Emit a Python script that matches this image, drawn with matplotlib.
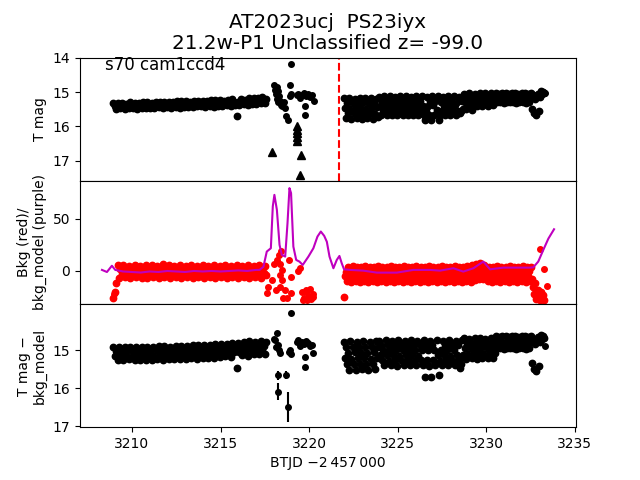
import numpy as np
import matplotlib
matplotlib.use("Agg")
import matplotlib.pyplot as plt

# ---------------- data ----------------
seg1_start, seg1_cadence = 3208.95, 0.08
seg2_start, seg2_cadence = 3221.97, 0.06

mag_seg1 = [15.31, 15.40, 15.48, 15.33, 15.41, 15.47, 15.32, 15.39, 15.49, 15.34, 15.42, 15.46,
            15.30, 15.38, 15.47, 15.32, 15.40, 15.48, 15.31, 15.37, 15.46, 15.29, 15.41, 15.47,
            15.30, 15.37, 15.46, 15.31, 15.39, 15.47, 15.28, 15.38, 15.45, 15.30, 15.36, 15.47,
            15.29, 15.36, 15.45, 15.28, 15.38, 15.46, 15.30, 15.37, 15.44, 15.27, 15.35, 15.46,
            15.27, 15.34, 15.44, 15.26, 15.36, 15.43, 15.28, 15.35, 15.45, 15.26, 15.33, 15.42,
            15.26, 15.33, 15.42, 15.25, 15.35, 15.43, 15.27, 15.34, 15.41, 15.24, 15.32, 15.43,
            15.24, 15.31, 15.40, 15.23, 15.33, 15.41, 15.25, 15.32, 15.39, 15.22, 15.30, 15.41,
            15.21, 15.29, 15.37, 15.70, 15.30, 15.38, 15.20, 15.28, 15.36, 15.22, 15.29, 15.37,
            15.18, 15.26, 15.34, 15.17, 15.27, 15.35, 15.16, 15.25, 15.33, 15.15, 15.24, 15.32,
            15.20]

sub_seg1 = [14.92, 15.15, 15.03, 15.26, 14.93, 15.14, 15.04, 15.25, 14.91, 15.16, 15.02, 15.24,
            14.93, 15.15, 15.03, 15.26, 14.92, 15.16, 15.04, 15.25, 14.91, 15.14, 15.03, 15.26,
            14.91, 15.14, 15.02, 15.25, 14.92, 15.15, 15.01, 15.24, 14.90, 15.13, 15.03, 15.25,
            14.90, 15.13, 15.01, 15.24, 14.91, 15.14, 15.00, 15.23, 14.89, 15.12, 15.02, 15.24,
            14.89, 15.12, 15.00, 15.23, 14.90, 15.13, 14.99, 15.22, 14.88, 15.11, 15.01, 15.23,
            14.87, 15.10, 14.98, 15.21, 14.88, 15.11, 14.97, 15.20, 14.86, 15.09, 14.99, 15.21,
            14.84, 15.07, 14.95, 15.18, 14.85, 15.08, 14.94, 15.17, 14.83, 15.06, 14.96, 15.18,
            14.81, 15.04, 14.92, 15.48, 14.82, 15.05, 14.91, 15.14, 14.80, 15.03, 14.93, 15.15,
            14.77, 15.00, 14.88, 15.11, 14.78, 15.01, 14.87, 15.10, 14.76, 14.99, 14.89, 15.10,
            14.80]

bkg_seg1 = [-26, -20, -12, 6, -7, 2, -3, 6, -6, 1, -2, 5,
            -7, 2, -3, 6, -6, 2, -2, 5, -7, 1, -3, 6,
            -7, 3, -2, 6, -6, 1, -3, 5, -7, 2, -2, 7,
            -6, 2, -3, 6, -7, 1, -2, 5, -6, 2, -3, 6,
            -7, 2, -2, 5, -6, 1, -3, 6, -7, 2, -2, 5,
            -6, 3, -3, 6, -7, 1, -2, 5, -6, 2, -3, 6,
            -7, 2, -2, 5, -6, 1, -3, 6, -7, 2, -2, 5,
            -6, 2, -3, 6, -7, 1, -2, 5, -6, 2, -3, 6,
            -7, 2, -2, 5, -6, 1, -3, 6, -7, 2, -2, 5,
            -4]

mag_seg2 = [15.18, 15.47, 15.76, 15.31, 15.62, 15.17, 15.48, 15.77, 15.33, 15.61,
            15.19, 15.46, 15.75, 15.32, 15.63, 15.16, 15.47, 15.78, 15.30, 15.62,
            15.18, 15.48, 15.76, 15.33, 15.60, 15.17, 15.46, 15.77, 15.31, 15.63,
            15.19, 15.45, 15.74,
            15.14, 15.40, 15.67, 15.27, 15.54, 15.12, 15.41, 15.68, 15.26, 15.53,
            15.13, 15.39, 15.66, 15.28, 15.55, 15.14, 15.40, 15.67, 15.27, 15.54,
            15.12, 15.41, 15.68, 15.26, 15.53, 15.13, 15.40, 15.66, 15.28, 15.55,
            15.14, 15.39, 15.67, 15.27, 15.54, 15.12, 15.40, 15.68, 15.26, 15.53,
            15.13, 15.41, 15.66, 15.80, 15.55, 15.14, 15.40, 15.67, 15.27, 15.80,
            15.12, 15.39, 15.68, 15.26, 15.53, 15.13, 15.80, 15.66, 15.28, 15.54,
            15.14, 15.40, 15.67, 15.27, 15.55, 15.12, 15.41, 15.68, 15.26, 15.53,
            15.13, 15.39, 15.66, 15.28, 15.54, 15.14, 15.60, 15.56, 15.27, 15.50,
            15.06, 15.28, 15.50, 15.16, 15.40, 15.04, 15.29, 15.51, 15.17, 15.39, 15.05,
            15.22, 15.42, 15.12, 15.32, 15.02, 15.23, 15.41, 15.11, 15.33, 15.03,
            15.22, 15.40, 15.13, 15.31, 15.02, 15.21, 15.38, 15.12, 15.30,
            15.04, 15.30, 15.17, 15.05, 15.29, 15.16, 15.03, 15.31, 15.18, 15.04,
            15.30, 15.17, 15.05, 15.28, 15.16, 15.03, 15.30, 15.18, 15.04, 15.31,
            15.17, 15.05, 15.29, 15.16, 15.03, 15.30, 15.18, 15.04, 15.31, 15.17,
            15.05, 15.29, 15.16, 15.03,
            15.50, 15.08, 15.62, 15.20, 15.67, 15.05, 15.55, 15.15,
            14.97, 15.06, 14.99, 15.04]

sub_seg2 = [14.78, 15.22, 14.92, 15.37, 15.07, 15.52, 14.77, 15.23, 14.93, 15.36,
            15.06, 15.53, 14.79, 15.21, 14.91, 15.38, 15.08, 15.51, 14.77, 15.22,
            14.92, 15.37, 15.07, 15.52, 14.78, 15.23, 14.93, 15.36, 15.06, 15.50,
            14.77, 15.21, 14.92,
            14.75, 15.14, 14.87, 15.27, 15.00, 15.40, 14.74, 15.13, 14.88, 15.28,
            15.01, 15.39, 14.75, 15.14, 14.86, 15.27, 15.00, 15.41, 14.74, 15.15,
            14.87, 15.26, 15.01, 15.40, 14.75, 15.13, 14.88, 15.27, 14.99, 15.39,
            14.74, 15.14, 14.87, 15.28, 15.00, 15.40, 14.75, 15.15, 14.86, 15.27,
            15.01, 15.39, 14.74, 15.70, 14.87, 15.26, 15.00, 15.41, 14.75, 15.70,
            14.88, 15.27, 14.99, 15.40, 14.74, 15.14, 15.66, 15.28, 15.00, 15.39,
            14.75, 15.13, 14.86, 15.27, 15.01, 15.40, 14.74, 15.15, 14.87, 15.26,
            15.00, 15.39, 14.75, 15.14, 14.88, 15.27, 15.48, 15.38, 14.74, 15.13,
            14.69, 14.96, 15.23, 14.82, 15.10, 14.70, 14.95, 15.22, 14.83, 15.09,
            14.68, 14.97, 15.23, 14.81, 15.11, 14.69, 14.96, 15.21, 14.82, 15.10,
            14.70, 14.95, 15.22, 14.83, 15.09, 14.68, 14.97, 15.20, 14.81, 15.08,
            14.64, 14.96, 14.80, 14.65, 14.95, 14.79, 14.63, 14.97, 14.81, 14.64,
            14.96, 14.80, 14.65, 14.94, 14.79, 14.63, 14.96, 14.81, 14.64, 14.97,
            14.80, 14.65, 14.95, 14.79, 14.63, 14.96, 14.81, 14.64, 14.97, 14.80,
            14.65, 14.95, 14.79, 14.63,
            15.35, 14.70, 15.50, 14.85, 15.55, 14.66, 15.42, 14.80,
            14.60, 14.70, 14.62, 14.68]

bkg_seg2 = [-25, -5, -1, -10, 4, -6, 0, -11, 5, -5,
            -1, -10, 4, -6, -1, -11, 4, -5, 0, -10,
            5, -6, -1, -11, 4, -5, -1, -10, 4, -6,
            0, -11, 5, -5, -1, -10, 4, -6, -1, -11,
            4, -5, 0, -10, 5, -6, -1, -11, 4, -5,
            -1, -10, 4, -6, 0, -11, 5, -5, -1, -10,
            4, -6, -1, -11, 4, -5, 0, -10, 5, -6,
            -1, -11, 4, -5, -1, -10, 4, -6, 0, -11,
            5, -5, -1, -10, 4, -6, -1, -11, 4, -5,
            0, -10, 5, -6, -1, -11, 4, -5, -1, -10,
            4, -6, 0, -11, 5, -5, -1, -10, 4, -6,
            -1, -11, 4, -5, 0, -10, 5, -6, -1, -11,
            6, -4, 1, -9, 7, -3, 2, -8, 8, -4,
            2, -8, 6, -5, 0, -10, 4, -6, -1, -11,
            4, -5, 0, -10, 5, -6, -1, -11, 4, -5,
            -1, -10, 4, -6, 0, -11, 5, -5, -1, -10,
            4, -6, -1, -11, 4, -5, 0, -10, 5, -6,
            -1, -11, 4, -5, 0, -10, 4,
            -8, -15, -22, -12, -27, -18, -25, -28, -20, -26, -23, -28]

# isolated points (between the two orbits and at the segment ends)
t_gap_top = [3217.99, 3218.05, 3218.12, 3218.2, 3218.18, 3218.26, 3218.3, 3218.22,
             3218.35, 3218.4, 3218.45, 3218.6, 3218.65, 3218.72, 3218.8, 3218.93,
             3218.9, 3218.95, 3218.98, 3219.3, 3219.4, 3219.5, 3219.6, 3219.7,
             3219.85, 3219.95, 3220.05, 3220.15, 3220.25, 3219.78, 3219.78, 3233.33]
m_gap_top = [14.79, 14.95, 15.05, 14.84, 15.2, 14.98, 15.13, 15.3,
             15.27, 15.37, 15.42, 15.3, 15.47, 15.71, 15.81, 14.79,
             15.13, 15.05, 14.2, 15.10, 15.05, 15.18, 15.08, 15.03,
             15.12, 15.06, 15.15, 15.08, 15.25, 15.42, 15.66, 15.04]

t_lim = [3217.93, 3219.3, 3219.3, 3219.3, 3219.3, 3219.3, 3219.55, 3219.5]
m_lim = [16.73, 16.0, 16.1, 16.2, 16.3, 16.42, 16.83, 17.41]

t_gap_bkg = [3209.0, 3217.61, 3217.7, 3217.9, 3217.99, 3218.18, 3218.31, 3218.42, 3218.36,
             3218.46, 3218.36, 3218.33, 3218.14, 3218.46, 3218.65, 3218.55, 3218.74,
             3218.84, 3218.97, 3218.97, 3219.49, 3219.4, 3219.6, 3219.7, 3219.8, 3219.9,
             3220.0, 3220.1, 3220.2, 3219.65, 3219.85, 3220.05, 3220.24, 3233.03,
             3233.27, 3233.4]
v_gap_bkg = [-22, -21, -15, -9, 7, 10.6, 15.4, 19.5, 7,
             1, -4, -15, -18, -9, -18, -26, -26,
             10.6, -5.4, -21, 2.6, 0, -20, -26, -18, -28,
             -24, -27, -22, -28, -20, -17, -25, 20.9,
             1.6, -14.4]

t_model = [3208.31, 3208.59, 3208.87, 3209.06, 3209.5, 3210.0, 3210.5, 3211.0, 3211.5,
           3212.0, 3212.5, 3213.0, 3213.5, 3214.0, 3214.5, 3215.0, 3215.5, 3216.0,
           3216.5, 3217.0, 3217.2, 3217.42, 3217.61, 3217.84, 3217.95, 3218.04,
           3218.18, 3218.33, 3218.46, 3218.65, 3218.78, 3218.89, 3218.98, 3219.11,
           3219.27, 3219.45, 3219.64, 3219.96, 3220.24, 3220.47, 3220.66, 3220.85,
           3221.0, 3221.15, 3221.37, 3221.56, 3221.71, 3221.84, 3221.97, 3222.31,
           3223.06, 3223.82, 3224.95, 3225.88, 3226.82, 3227.39, 3228.14, 3228.7,
           3229.27, 3229.83, 3230.21, 3230.96, 3231.71, 3232.46, 3232.65, 3232.93,
           3233.21, 3233.5, 3233.82]
v_model = [1, -1, 5, 1, -0.5, -1, -1.5, -0.5, -1,
           0, -0.5, -1, 0, -0.5, 0, -0.5, 0, 0.5,
           0, 1, 1, 4, 18.6, 21.8, 62, 73,
           58.7, 25, 15.4, 13.8, 45.9, 79.5, 74.7, 23.4,
           10.6, 9, 5.8, 13.8, 21.8, 33, 37.8, 33.7,
           28, 13.8, 2.6, 10.6, 14.4, 7.4, 1.6, 1,
           0.3, -1.6, -1.6, 1, 1, 0.3, 2.6, -0.6,
           2.6, 9, 1.6, 3.2, 3.2, 3.2, 3.5, 9,
           20, 31, 40]

t_gap_sub = [3217.99, 3218.1, 3218.15, 3218.2, 3218.25, 3218.3, 3218.35, 3218.23, 3218.23,
             3218.7, 3218.8, 3218.88, 3218.93, 3218.98, 3218.98, 3219.3, 3219.4, 3219.5,
             3219.6, 3219.7, 3219.85, 3219.95, 3220.05, 3220.15, 3220.24, 3219.77,
             3219.77, 3233.33]
m_gap_sub = [14.72, 14.74, 14.91, 14.56, 14.87, 15.0, 15.08, 15.66, 16.1,
             15.66, 16.5, 15.05, 15.0, 15.1, 14.02, 14.8, 14.74, 14.9,
             14.78, 14.85, 14.76, 14.82, 14.9, 14.86, 15.07, 15.19,
             15.44, 14.90]
e_gap_sub = [0, 0, 0, 0, 0, 0, 0, 0.12, 0.22,
             0.1, 0.4, 0, 0, 0, 0, 0, 0, 0,
             0, 0, 0, 0, 0, 0, 0, 0,
             0, 0]

t_sector_break = 3221.69

# ---------------- regular-cadence time stamps ----------------
t_seg1 = seg1_start + seg1_cadence * np.arange(len(mag_seg1))
t_seg2 = seg2_start + seg2_cadence * np.arange(len(mag_seg2))

fig, (ax1, ax2, ax3) = plt.subplots(3, 1, sharex=True, figsize=(6.4, 4.8), dpi=100)
fig.subplots_adjust(hspace=0)

ms_band = 4.6
ms = 4.0
# top panel
for t, m in ((t_seg1, mag_seg1), (t_seg2, mag_seg2)):
    ax1.plot(t, m, 'o', color='k', ms=ms_band)
ax1.plot(t_gap_top, m_gap_top, 'o', color='k', ms=ms)
ax1.plot(t_lim, m_lim, '^', color='k', ms=6)
ax1.axvline(t_sector_break, color='r', ls='--', lw=1.5)
ax1.set_ylim(17.58, 14.0)
ax1.set_yticks([14, 15, 16, 17])
ax1.set_ylabel('T mag')
ax1.text(0.05, 0.9, 's70 cam1ccd4', transform=ax1.transAxes, fontsize=12)
ax1.set_title('AT2023ucj  PS23iyx\n21.2w-P1 Unclassified z= -99.0',
              fontsize=14.4, linespacing=1.13)

# middle panel
for t, v in ((t_seg1, bkg_seg1), (t_seg2, bkg_seg2)):
    ax2.plot(t, v, 'o', color='r', ms=ms_band)
ax2.plot(t_gap_bkg, v_gap_bkg, 'o', color='r', ms=ms)
ax2.plot(t_model, v_model, '-', color='m', lw=1.5)
ax2.set_ylim(-31.7, 86.5)
ax2.set_yticks([0, 50])
ax2.set_ylabel('Bkg (red)/\nbkg_model (purple)')

# bottom panel
for t, m in ((t_seg1, sub_seg1), (t_seg2, sub_seg2)):
    ax3.plot(t, m, 'o', color='k', ms=ms_band)
ax3.errorbar(t_gap_sub, m_gap_sub, yerr=e_gap_sub, fmt='o', color='k', ms=ms, elinewidth=1.5)
ax3.set_ylim(17.03, 13.79)
ax3.set_yticks([15, 16, 17])
ax3.set_ylabel('T mag \u2212\nbkg_model')
ax3.set_xlabel('BTJD \u22122\u2009457\u2009000')
ax3.set_xlim(3207.07, 3235.06)
ax3.set_xticks([3210, 3215, 3220, 3225, 3230, 3235])

fig.savefig('out.png', dpi=100)
